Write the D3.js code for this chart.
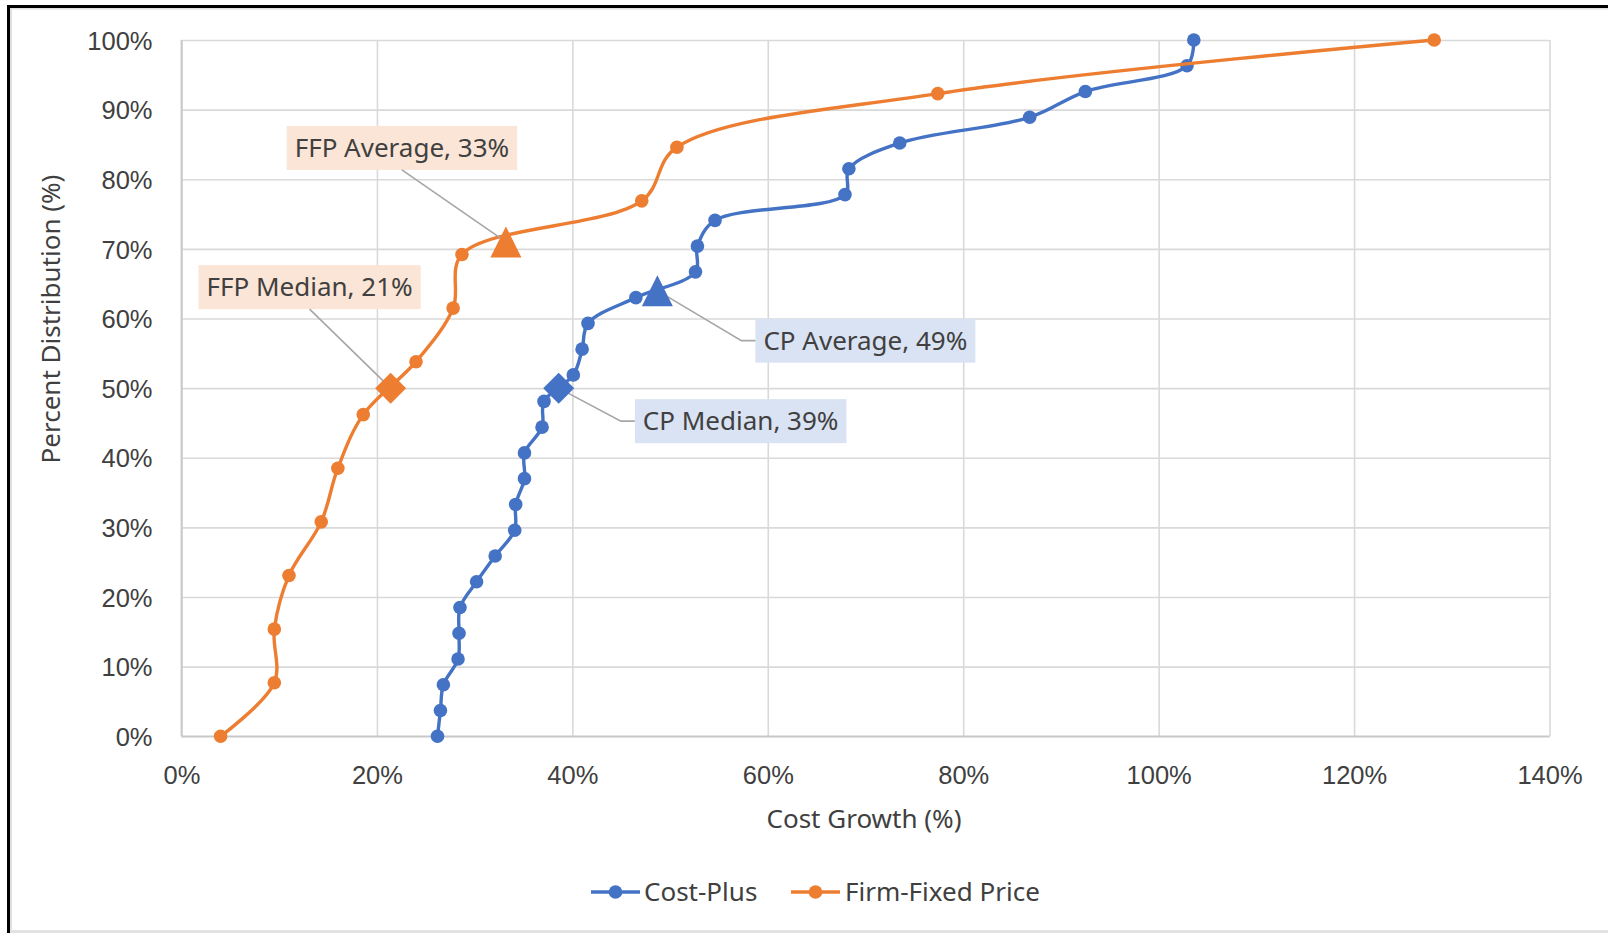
<!DOCTYPE html>
<html>
<head>
<meta charset="utf-8">
<script src="https://cdn.jsdelivr.net/npm/d3@7"></script>
<style>
  html, body { margin: 0; padding: 0; background: #fff; }
  svg { display: block; font-family: "Noto Sans", "Open Sans", sans-serif; }
</style>
</head>
<body>
<svg id="chart" width="1608" height="933"></svg>
<script>
// ---------- DATA ----------
const xTicks = [0, 0.2, 0.4, 0.6, 0.8, 1.0, 1.2, 1.4];
const xTickLabels = ["0%", "20%", "40%", "60%", "80%", "100%", "120%", "140%"];
const yTicks = [0, 0.1, 0.2, 0.3, 0.4, 0.5, 0.6, 0.7, 0.8, 0.9, 1.0];
const yTickLabels = ["0%", "10%", "20%", "30%", "40%", "50%", "60%", "70%", "80%", "90%", "100%"];

const seriesNames = ["Cost-Plus", "Firm-Fixed Price"];

const cpCostGrowth = [0.262, 0.265, 0.268, 0.283, 0.284, 0.285, 0.302, 0.321, 0.341, 0.342, 0.351, 0.351,
  0.369, 0.371, 0.401, 0.410, 0.416, 0.465, 0.526, 0.528, 0.546, 0.679, 0.683, 0.735, 0.868, 0.925, 1.029, 1.036];
const cpDistribution = [0.000, 0.037, 0.074, 0.111, 0.148, 0.185, 0.222, 0.259, 0.296, 0.333, 0.370, 0.407,
  0.444, 0.481, 0.519, 0.556, 0.593, 0.630, 0.667, 0.704, 0.741, 0.778, 0.815, 0.852, 0.889, 0.926, 0.963, 1.000];

const ffpCostGrowth = [0.040, 0.095, 0.095, 0.110, 0.143, 0.160, 0.186, 0.240, 0.278, 0.287, 0.471, 0.507, 0.774, 1.282];
const ffpDistribution = [0.000, 0.077, 0.154, 0.231, 0.308, 0.385, 0.462, 0.538, 0.615, 0.692, 0.769, 0.846, 0.923, 1.000];

const statLabels = ["FFP Average, 33%", "FFP Median, 21%", "CP Average, 49%", "CP Median, 39%"];
const statCostGrowth = [0.332, 0.214, 0.487, 0.386];
const statDistribution = [0.71, 0.50, 0.64, 0.50];
const statShape = ["triangle", "diamond", "triangle", "diamond"];
const statSeries = [1, 1, 0, 0];

// ---------- STYLE / LAYOUT ----------
const colors = ["#4472C4", "#ED7D31"];
const boxFills = ["#DAE3F3", "#FBE5D6"];
const textColor = "#404040";
const FS = 26;
// label box centre offsets (px) from their marker and leader style
const labelLayout = [
  { dx: -104, dy: -94, elbow: false },
  { dx: -81, dy: -101, elbow: false },
  { dx: 208, dy: 50, elbow: true },
  { dx: 182, dy: 33, elbow: true }
];

const svg = d3.select("#chart");
const W = 1608, H = 933;
const plot = { left: 181.5, right: 1549.5, top: 40, bottom: 736.3 };

const x = d3.scaleLinear().domain([0, 1.4]).range([plot.left, plot.right]);
const y = d3.scaleLinear().domain([0, 1]).range([plot.bottom, plot.top]);

// frame
svg.append("rect").attr("x", 0).attr("y", 0).attr("width", W).attr("height", H).attr("fill", "#fff");
svg.append("line").attr("x1", 7).attr("x2", W).attr("y1", 8.5).attr("y2", 8.5).attr("stroke", "#e0e0e0").attr("stroke-width", 2);
svg.append("line").attr("x1", 11).attr("x2", 11).attr("y1", 7).attr("y2", H).attr("stroke", "#e0e0e0").attr("stroke-width", 2);
svg.append("line").attr("x1", 7).attr("x2", W).attr("y1", 6.5).attr("y2", 6.5).attr("stroke", "#000").attr("stroke-width", 3);
svg.append("line").attr("x1", 8.5).attr("x2", 8.5).attr("y1", 5).attr("y2", H).attr("stroke", "#000").attr("stroke-width", 3);
svg.append("line").attr("x1", 10).attr("x2", W).attr("y1", 931.5).attr("y2", 931.5).attr("stroke", "#e3e3e3").attr("stroke-width", 3);

// gridlines via axes
const gx = svg.append("g").attr("transform", `translate(0,${plot.bottom})`)
  .call(d3.axisBottom(x).tickValues(xTicks).tickSize(-(plot.bottom - plot.top)).tickFormat((d, i) => xTickLabels[i]));
gx.select(".domain").remove();
gx.selectAll(".tick line").attr("stroke", "#d9d9d9").attr("stroke-width", 1.6);
gx.selectAll(".tick text").attr("fill", textColor).attr("font-size", 25.5).attr("dy", 0).attr("y", 48);

const gy = svg.append("g").attr("transform", `translate(${plot.left},0)`)
  .call(d3.axisLeft(y).tickValues(yTicks).tickSize(-(plot.right - plot.left)).tickFormat((d, i) => yTickLabels[i]));
gy.select(".domain").remove();
gy.selectAll(".tick line").attr("stroke", "#d9d9d9").attr("stroke-width", 1.6);
gy.selectAll(".tick text").attr("fill", textColor).attr("font-size", 25.5).attr("x", -29).attr("dy", "0.36em");

// axis lines
svg.append("line").attr("x1", plot.left).attr("x2", plot.right).attr("y1", plot.bottom).attr("y2", plot.bottom)
  .attr("stroke", "#c8c8c8").attr("stroke-width", 1.8);
svg.append("line").attr("x1", plot.left).attr("x2", plot.left).attr("y1", plot.top).attr("y2", plot.bottom)
  .attr("stroke", "#c8c8c8").attr("stroke-width", 1.8);

// axis titles
svg.append("text").attr("x", 864).attr("y", 819).attr("dy", "0.35em").attr("text-anchor", "middle")
  .attr("font-size", FS).attr("fill", textColor).text("Cost Growth (%)");
svg.append("text").attr("transform", "translate(51,319) rotate(-90)").attr("dy", "0.35em").attr("text-anchor", "middle")
  .attr("font-size", FS).attr("fill", textColor).text("Percent Distribution (%)");

// series
const line = d3.line().x(d => x(d[0])).y(d => y(d[1])).curve(d3.curveCatmullRom.alpha(0.5));
const series = [
  d3.zip(cpCostGrowth, cpDistribution),
  d3.zip(ffpCostGrowth, ffpDistribution)
];
[0, 1].forEach(si => {
  const g = svg.append("g");
  g.append("path").attr("d", line(series[si])).attr("fill", "none")
    .attr("stroke", colors[si]).attr("stroke-width", 3.4).attr("stroke-linejoin", "round");
  g.selectAll("circle").data(series[si]).enter().append("circle")
    .attr("cx", d => x(d[0])).attr("cy", d => y(d[1])).attr("r", 6.8).attr("fill", colors[si]);
});

// stat labels with leaders
statLabels.forEach((lab, i) => {
  const px = x(statCostGrowth[i]), py = y(statDistribution[i]);
  const L = labelLayout[i];
  const cx = px + L.dx, cy = py + L.dy;
  const gl = svg.append("g");
  const t = gl.append("text").attr("x", cx).attr("y", cy).attr("dy", "0.35em").attr("text-anchor", "middle")
    .attr("font-size", FS).attr("fill", textColor).text(lab);
  const bb = t.node().getBBox();
  const bw = bb.width + 16, bh = 44;
  gl.insert("rect", "text").attr("x", cx - bw / 2).attr("y", cy - bh / 2).attr("width", bw).attr("height", bh)
    .attr("fill", boxFills[statSeries[i]]);
  let pts;
  if (L.elbow) {
    const bx = cx - bw / 2;
    pts = [[px, py], [bx - 14, cy], [bx, cy]];
  } else {
    pts = [[cx, cy + bh / 2], [px, py]];
  }
  svg.append("path").attr("d", d3.line()(pts)).attr("fill", "none").attr("stroke", "#a6a6a6").attr("stroke-width", 1.6);
});
// stat markers
statLabels.forEach((lab, i) => {
  const px = x(statCostGrowth[i]), py = y(statDistribution[i]);
  const c = colors[statSeries[i]];
  const s = 15.5;
  let d;
  if (statShape[i] === "triangle") {
    d = `M${px},${py - s}L${px + s},${py + s}L${px - s},${py + s}Z`;
  } else {
    d = `M${px},${py - s}L${px + s},${py}L${px},${py + s}L${px - s},${py}Z`;
  }
  svg.append("path").attr("d", d).attr("fill", c);
});

// legend
const legend = [
  { x0: 591, tx: 644 },
  { x0: 791, tx: 845 }
];
legend.forEach((L, i) => {
  const g = svg.append("g");
  g.append("line").attr("x1", L.x0).attr("x2", L.x0 + 49).attr("y1", 892).attr("y2", 892)
    .attr("stroke", colors[i]).attr("stroke-width", 3.4);
  g.append("circle").attr("cx", L.x0 + 24.5).attr("cy", 892).attr("r", 6.8).attr("fill", colors[i]);
  g.append("text").attr("x", L.tx).attr("y", 892).attr("dy", "0.35em").attr("font-size", FS)
    .attr("fill", textColor).text(seriesNames[i]);
});
</script>
</body>
</html>
